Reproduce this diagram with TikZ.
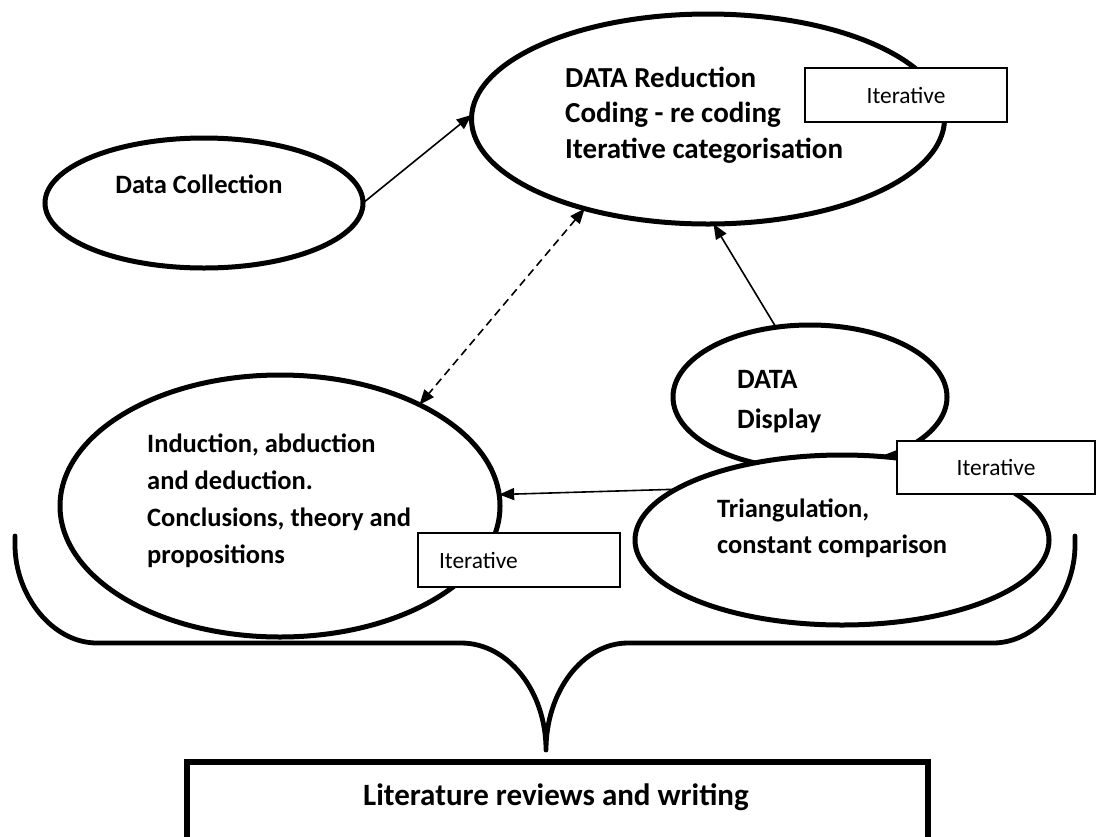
\documentclass[tikz,border=0pt]{standalone}
\usepackage{fontspec}
\setmainfont{Carlito}
\usetikzlibrary{shapes.geometric,arrows.meta}
\tikzset{
  oval/.style={ellipse, draw, line width=5pt, fill=white, inner sep=0pt, outer sep=0pt},
  boldtext/.style={font=\fontsize{26.5pt}{37pt}\selectfont\bfseries, inner sep=0pt, align=left},
  tagbox/.style={draw, line width=1.8pt, fill=white, minimum width=202pt, minimum height=54pt,
    inner sep=0pt, outer sep=0pt, font=\fontsize{23.4pt}{28pt}\selectfont},
  link/.style={line width=1.6pt, -{Triangle[length=15pt,width=12pt]}},
  twoway/.style={line width=1.6pt, dash pattern=on 8pt off 5pt,
    {Triangle[length=15pt,width=12pt]}-{Triangle[length=15pt,width=12pt]}},
  bracket/.style={line width=4.8pt, line join=round, line cap=round},
  litbox/.style={draw, line width=5.5pt, inner sep=0pt, outer sep=0pt}
}
\begin{document}
\begin{tikzpicture}[x=1pt,y=-1pt]
\fill[white] (0,0) rectangle (1097,836);
\clip (0,0) rectangle (1097,836);

% curly bracket gathering the whole cycle into the writing stage
\draw[bracket] (15,536) -- (15,545)
  .. controls (15,595) and (52,643) .. (97,643) -- (461,643)
  .. controls (508,643) and (546,691) .. (546,750)
  .. controls (546,691) and (583,643) .. (628,643) -- (993,643)
  .. controls (1038,643) and (1075,595) .. (1075,545) -- (1075,536);

% writing stage (its lower edge runs off the page)
\node[litbox, minimum width=741pt, minimum height=100pt, anchor=north] (lit) at (557.5,762) {};
\node[font=\fontsize{31pt}{37pt}\selectfont\bfseries, inner sep=0pt, anchor=base] (littext) at (556,805) {Literature reviews and writing};

% analysis stages
\node[oval, minimum width=318pt, minimum height=130pt] (dc) at (204,203) {};
\node[oval, minimum width=473pt, minimum height=210pt] (dr) at (708,119) {};
\node[oval, minimum width=274pt, minimum height=144pt] (dd) at (810,397) {};
\node[oval, minimum width=414pt, minimum height=170pt] (tri) at (842,540) {};
\node[oval, minimum width=440pt, minimum height=262pt] (ind) at (280,506) {};

% labels, each placed by the baseline of its last line
\node[boldtext, anchor=base] (dclabel) at (199,193) {Data Collection};
\node[boldtext, anchor=base west, font=\fontsize{29pt}{35.5pt}\selectfont\bfseries] (drlabel) at (565,158)
  {DATA Reduction\\Coding - re coding\\Iterative categorisation};
\node[boldtext, anchor=base west, font=\fontsize{28pt}{40pt}\selectfont\bfseries] (ddlabel) at (737,428)
  {DATA\\Display};
\node[boldtext, anchor=base west, font=\fontsize{26.5pt}{36pt}\selectfont\bfseries] (trilabel) at (717,553)
  {Triangulation,\\constant comparison};
\node[boldtext, anchor=base west] (indlabel) at (147,563)
  {Induction, abduction\\and deduction.\\Conclusions, theory and\\propositions};

% flow between the stages
\draw[link] (dc.east) -- (dr.179);
\draw[link] (dd.116) -- (dr.273);
\draw[link] (tri.163) -- (ind.3);
\draw[twoway] (dr.216) -- (ind.36);

% iteration tags
\node[tagbox] (it1) at (906,95) {Iterative};
\node[tagbox, minimum width=198pt, minimum height=53pt] (it2) at (996,467.5) {Iterative};
\node[tagbox, text width=160pt, align=left] (it3) at (519,560) {Iterative};
\end{tikzpicture}
\end{document}
